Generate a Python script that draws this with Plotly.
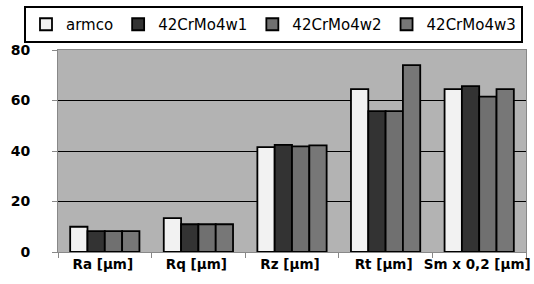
import plotly.graph_objects as go

categories = ["Ra [μm]", "Rq [μm]", "Rz [μm]", "Rt [μm]", "Sm x 0,2 [μm]"]
series_names = ["armco", "42CrMo4w1", "42CrMo4w2", "42CrMo4w3"]
armco = [10.0, 13.4, 41.5, 64.5, 64.5]
w1 = [8.3, 11.0, 42.4, 55.8, 65.7]
w2 = [8.3, 11.0, 41.8, 55.8, 61.5]
w3 = [8.3, 11.0, 42.2, 74.0, 64.5]
y_ticks = [0, 20, 40, 60, 80]

colors = ["#f2f2f2", "#333333", "#707070", "#777777"]
series = [armco, w1, w2, w3]

fig = go.Figure()
for name, vals, col in zip(series_names, series, colors):
    fig.add_trace(go.Bar(
        x=categories, y=vals, name=name,
        marker=dict(color=col, line=dict(color="#000000", width=1.8)),
    ))

fig.update_layout(
    width=534, height=284,
    margin=dict(l=58, r=8, t=50, b=32, autoexpand=False),
    paper_bgcolor="#ffffff",
    plot_bgcolor="#b3b3b3",
    barmode="group",
    bargap=0.26,
    bargroupgap=0,
    font=dict(family="DejaVu Sans", color="#000000"),
    legend=dict(
        orientation="h",
        x=(24 - 58) / 468, xanchor="left",
        y=1 + (50 - 6) / 202, yanchor="top",
        bordercolor="#000000", borderwidth=2,
        bgcolor="#ffffff",
        font=dict(size=15, family="DejaVu Sans"),
        tracegroupgap=0,
    ),
    xaxis=dict(
        type="category",
        tickson="boundaries",
        tickangle=0,
        automargin=False,
        ticklabeloverflow="allow",
        ticklabelshift=-2,
        ticks="outside", ticklen=5, tickcolor="#888888",
        showline=True, linecolor="#888888", linewidth=1,
        showgrid=False,
        tickfont=dict(size=13.5, family="DejaVu Sans", weight="bold"),
        mirror=True,
    ),
    yaxis=dict(
        range=[0, 80],
        tickvals=y_ticks,
        automargin=False,
        ticks="outside", ticklen=5, tickcolor="#888888",
        showline=True, linecolor="#888888", linewidth=1,
        showgrid=True, gridcolor="#000000", gridwidth=1,
        zeroline=False,
        tickfont=dict(size=14, family="DejaVu Sans", weight="bold"),
        ticklabelstandoff=19,
        mirror=True,
    ),
)

fig.write_html("out.html", config={"displayModeBar": False},
               post_script="document.body.style.margin='0';")
